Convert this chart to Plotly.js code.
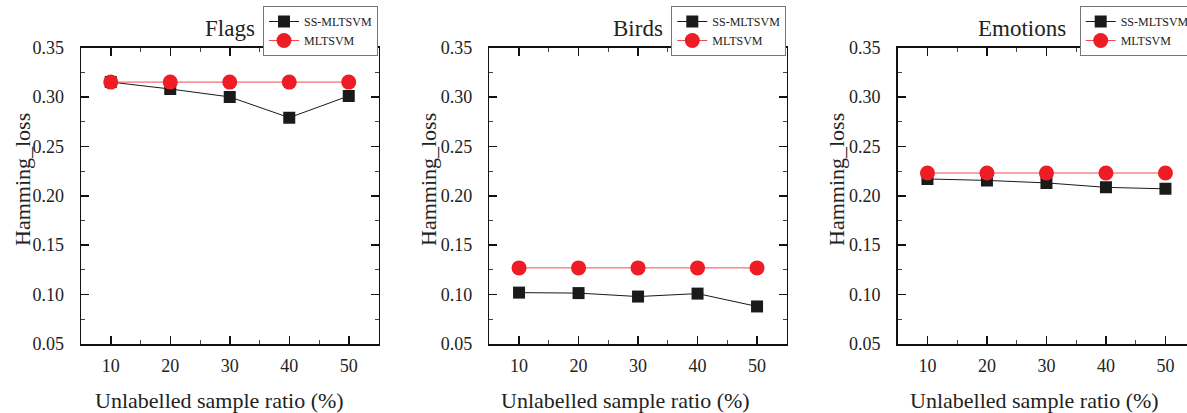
<!DOCTYPE html>
<html>
<head>
<meta charset="utf-8">
<script src="https://cdn.plot.ly/plotly-3.0.1.min.js"></script>
<style>html,body{margin:0;padding:0;overflow:hidden;background:#fff;}#chart{width:1200px;height:413px;}</style>
</head>
<body>
<div id="chart"></div>
<script>
const ratios = [10, 20, 30, 40, 50];
const datasets = ["Flags", "Birds", "Emotions"];
const seriesNames = ["SS-MLTSVM", "MLTSVM"];
const flagsSS = [0.315, 0.308, 0.300, 0.279, 0.301];
const flagsML = [0.315, 0.315, 0.315, 0.315, 0.315];
const birdsSS = [0.102, 0.1015, 0.098, 0.101, 0.088];
const birdsML = [0.127, 0.127, 0.127, 0.127, 0.127];
const emotionsSS = [0.217, 0.2155, 0.213, 0.2085, 0.207];
const emotionsML = [0.223, 0.223, 0.223, 0.223, 0.223];
const yTickVals = [0.05, 0.10, 0.15, 0.20, 0.25, 0.30, 0.35];
const xTitle = "Unlabelled sample ratio (%)";
const yTitle = "Hamming_loss";

const W = 1200, H = 413;
const FONT = "'Liberation Serif', 'Times New Roman', Times, serif";
const px = v => v / W;
const py = v => (H - v) / H;

const plots = [
  {ss: flagsSS, ml: flagsML, x0: 81, x1: 378.5, titleX: 229.5, yLabX: 22, xLabX: 219},
  {ss: birdsSS, ml: birdsML, x0: 489.3, x1: 786.8, titleX: 638, yLabX: 428, xLabX: 625},
  {ss: emotionsSS, ml: emotionsML, x0: 897.7, x1: 1195.2, titleX: 1022, yLabX: 836, xLabX: 1034}
];

const traces = [];
const layout = {
  width: W, height: H,
  margin: {l: 0, r: 0, t: 0, b: 0},
  paper_bgcolor: "#fff", plot_bgcolor: "#fff",
  font: {family: FONT, color: "#222"},
  showlegend: true,
  annotations: []
};

plots.forEach((p, i) => {
  const n = i === 0 ? "" : String(i + 1);
  const xa = "x" + n, ya = "y" + n;
  const lg = "legend" + n;
  traces.push({
    x: ratios, y: p.ss, xaxis: xa, yaxis: ya, legend: lg,
    name: seriesNames[0], mode: "lines+markers",
    line: {color: "#1a1a1a", width: 1},
    marker: {symbol: "square", size: 12, color: "#1a1a1a"}
  });
  traces.push({
    x: ratios, y: p.ml, xaxis: xa, yaxis: ya, legend: lg,
    name: seriesNames[1], mode: "lines+markers",
    line: {color: "#f04a50", width: 1},
    marker: {symbol: "circle", size: 15, color: "#ee1c25"}
  });
  const axCommon = {
    showgrid: false, zeroline: false, showline: true, linecolor: "#111", linewidth: 1.5,
    mirror: "ticks", ticks: "inside", ticklen: 8, tickwidth: 1.5, tickcolor: "#111",
    tickfont: {family: FONT, size: 18, color: "#222"}, fixedrange: true
  };
  layout["xaxis" + n] = Object.assign({}, axCommon, {
    domain: [px(p.x0), px(p.x1)], range: [5, 55], anchor: ya,
    tickvals: ratios, ticklabelstandoff: 5,
    minor: {ticks: "inside", ticklen: 4, tickwidth: 1, tickcolor: "#444", dtick: 5, tick0: 5}
  });
  layout["yaxis" + n] = Object.assign({}, axCommon, {
    domain: [py(344), py(47.5)], range: [0.05, 0.35], anchor: xa,
    tickvals: yTickVals, tickformat: ".2f", ticklabelstandoff: 12,
    minor: {ticks: "inside", ticklen: 4, tickwidth: 1, tickcolor: "#444", dtick: 0.025, tick0: 0.05}
  });
  layout[lg] = {
    x: px(p.x1 - 0.5), xanchor: "right", y: py(6), yanchor: "top",
    bgcolor: "#fff", bordercolor: "#777", borderwidth: 1,
    font: {family: FONT, size: 12, color: "#222"},
    itemwidth: 30, entrywidth: 80, tracegroupgap: 0
  };
  layout.annotations.push({
    text: datasets[i], x: px(p.titleX), y: py(28), xref: "paper", yref: "paper",
    xanchor: "center", yanchor: "middle", showarrow: false,
    font: {family: FONT, size: 23, color: "#222"}
  });
  layout.annotations.push({
    text: yTitle, x: px(p.yLabX), y: py(180), xref: "paper", yref: "paper",
    xanchor: "center", yanchor: "middle", showarrow: false, textangle: -90,
    font: {family: FONT, size: 22, color: "#222"}
  });
  layout.annotations.push({
    text: xTitle, x: px(p.xLabX), y: py(400), xref: "paper", yref: "paper",
    xanchor: "center", yanchor: "middle", showarrow: false,
    font: {family: FONT, size: 22, color: "#222"}
  });
});

Plotly.newPlot("chart", traces, layout, {displayModeBar: false, staticPlot: true});
</script>
</body>
</html>
